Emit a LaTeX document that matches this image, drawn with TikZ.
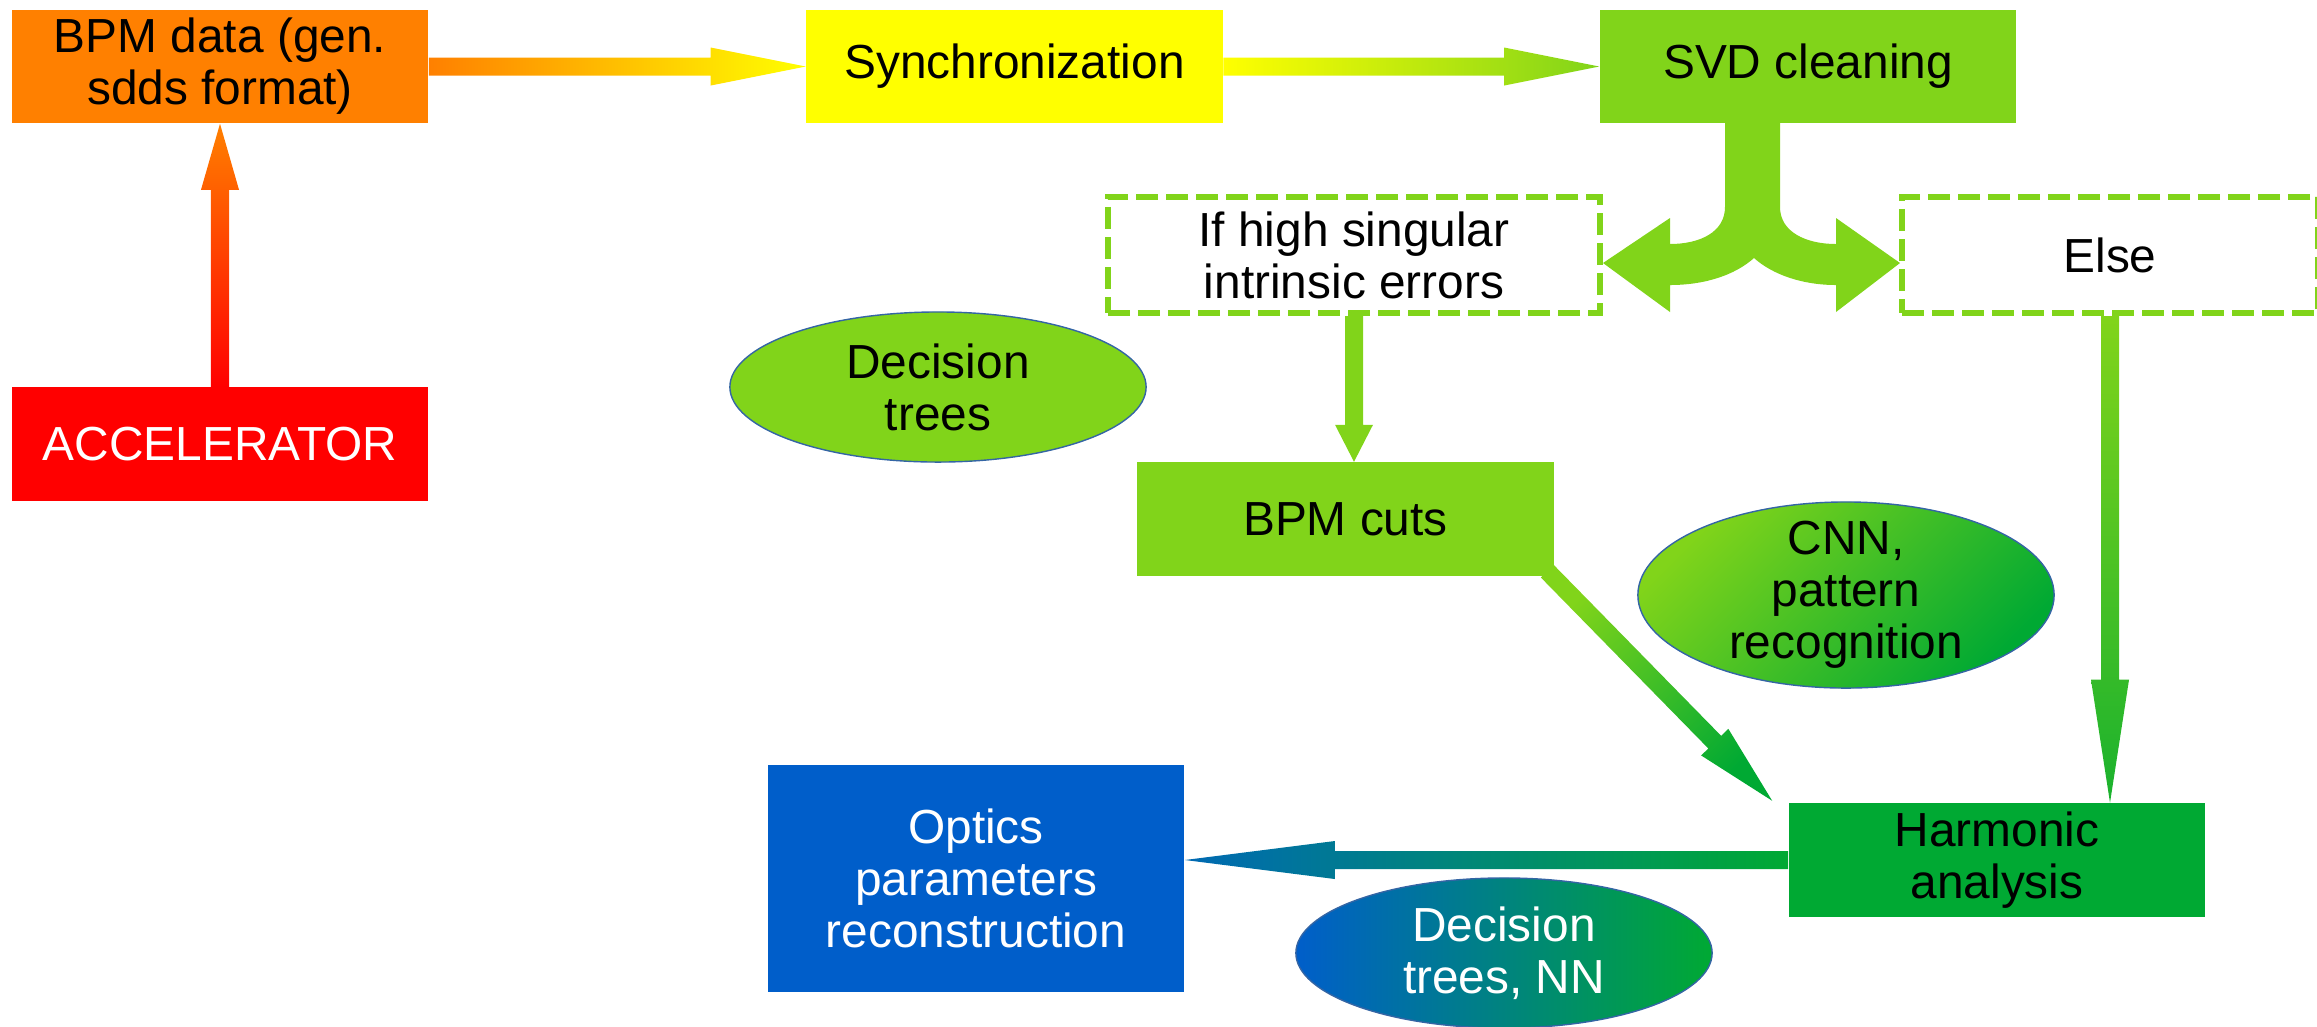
\documentclass[tikz,border=0pt]{standalone}
\usepackage{fontspec}
\setmainfont{Liberation Sans}
\usetikzlibrary{calc,shapes.geometric}

\definecolor{bpmorange}{HTML}{FF8000}
\definecolor{syncyellow}{HTML}{FFFF00}
\definecolor{limegreen}{HTML}{81D41A}
\definecolor{harmgreen}{HTML}{00A933}
\definecolor{accred}{HTML}{FF0000}
\definecolor{optblue}{HTML}{005ECA}
\definecolor{rimblue}{HTML}{3465A4}

\tikzset{
  stage/.style={rectangle,minimum width=4.16cm,minimum height=1.13cm,inner sep=0pt,align=center},
  cond/.style={stage,draw=limegreen,line width=0.06cm,dash pattern=on 0.22cm off 0.08cm},
  method/.style={ellipse,draw=rimblue,line width=0.4pt,minimum width=4.16cm,minimum height=1.5cm,inner sep=0pt,align=center},
}

% fat arrow: from, to, head length, tail colour, tip colour, shading angle
\newcommand{\fatarrow}[6]{
  \coordinate (fa-s) at (#1);
  \coordinate (fa-e) at (#2);
  \coordinate (fa-h) at ($(fa-e)!#3!(fa-s)$);
  \path[top color=#5,bottom color=#4,shading angle=#6]
    ($(fa-s)!0.09cm!90:(fa-e)$) -- ($(fa-h)!0.09cm!-90:(fa-s)$) -- ($(fa-h)!0.19cm!-90:(fa-s)$)
    -- (fa-e) -- ($(fa-h)!0.19cm!90:(fa-s)$) -- ($(fa-h)!0.09cm!90:(fa-s)$)
    -- ($(fa-s)!0.09cm!-90:(fa-e)$) -- cycle;
}

\begin{document}
\begin{tikzpicture}[x=0.01cm,y=-0.01cm,font=\fontsize{13.6}{14.8}\selectfont]
\useasboundingbox (0,0) rectangle (2317,1026);

\node[stage,fill=bpmorange] (bpm) at (220,66.5) {BPM data (gen.\\sdds format)};
\node[stage,fill=syncyellow] (sync) at (1014.5,66.5) {Synchronization};
\node[stage,fill=limegreen] (svd) at (1808,66.5) {SVD cleaning};
\node[stage,fill=accred,text=white] (acc) at (220,444) {ACCELERATOR};
\node[cond,minimum width=4.92cm,minimum height=1.16cm] (ifhigh) at (1354,255) {If high singular\\intrinsic errors};
\node[cond,minimum height=1.16cm] (elsebox) at (2110,255) {Else};
\node[method,fill=limegreen] (dt) at (938,387) {Decision\\trees};
\node[stage,fill=limegreen] (cuts) at (1345.5,519) {BPM cuts};
\node[method,minimum height=1.86cm,inner ysep=-0.1cm,top color=limegreen,bottom color=harmgreen,shading angle=45] (cnn) at (1846,595) {CNN,\\pattern\\recognition};
\node[stage,fill=harmgreen] (harm) at (1997,860) {Harmonic\\analysis};
\node[stage,fill=optblue,text=white,minimum height=2.27cm] (optics) at (976,878.5) {Optics\\parameters\\reconstruction};
\node[method,left color=optblue,right color=harmgreen,text=white] (dtnn) at (1504,953) {Decision\\trees, NN};

\fatarrow{bpm.east}{sync.west}{0.95cm}{bpmorange}{syncyellow}{-90}
\fatarrow{sync.east}{svd.west}{0.95cm}{syncyellow}{limegreen}{-90}
\fatarrow{acc.north}{bpm.south}{0.66cm}{accred}{bpmorange}{0}
\fatarrow{ifhigh.south}{cuts.north -| ifhigh.south}{0.37cm}{limegreen}{limegreen}{180}
\fatarrow{elsebox.south}{harm.north -| elsebox.south}{1.23cm}{limegreen}{harmgreen!80!limegreen}{180}
\fatarrow{$(cuts.south east)+(-7,-5)$}{$(harm.north west)+(-16,-2)$}{0.82cm}{limegreen}{harmgreen}{-135}
\fatarrow{harm.west}{optics.east |- harm.west}{1.50cm}{harmgreen}{optblue!85!harmgreen}{90}

% split arrow below SVD cleaning
\fill[limegreen] (1725,123) -- (1725,207) .. controls (1725,232) and (1700,244) .. (1670,244)
  -- (1670,218) -- (1603,263) -- (1670,312) -- (1670,285)
  .. controls (1705,285) and (1735,275) .. (1754,258)
  .. controls (1773,275) and (1803,285) .. (1836,285)
  -- (1836,312) -- (1900,263) -- (1836,218) -- (1836,244)
  .. controls (1806,244) and (1780,232) .. (1780,207) -- (1780,123) -- cycle;
\end{tikzpicture}
\end{document}
